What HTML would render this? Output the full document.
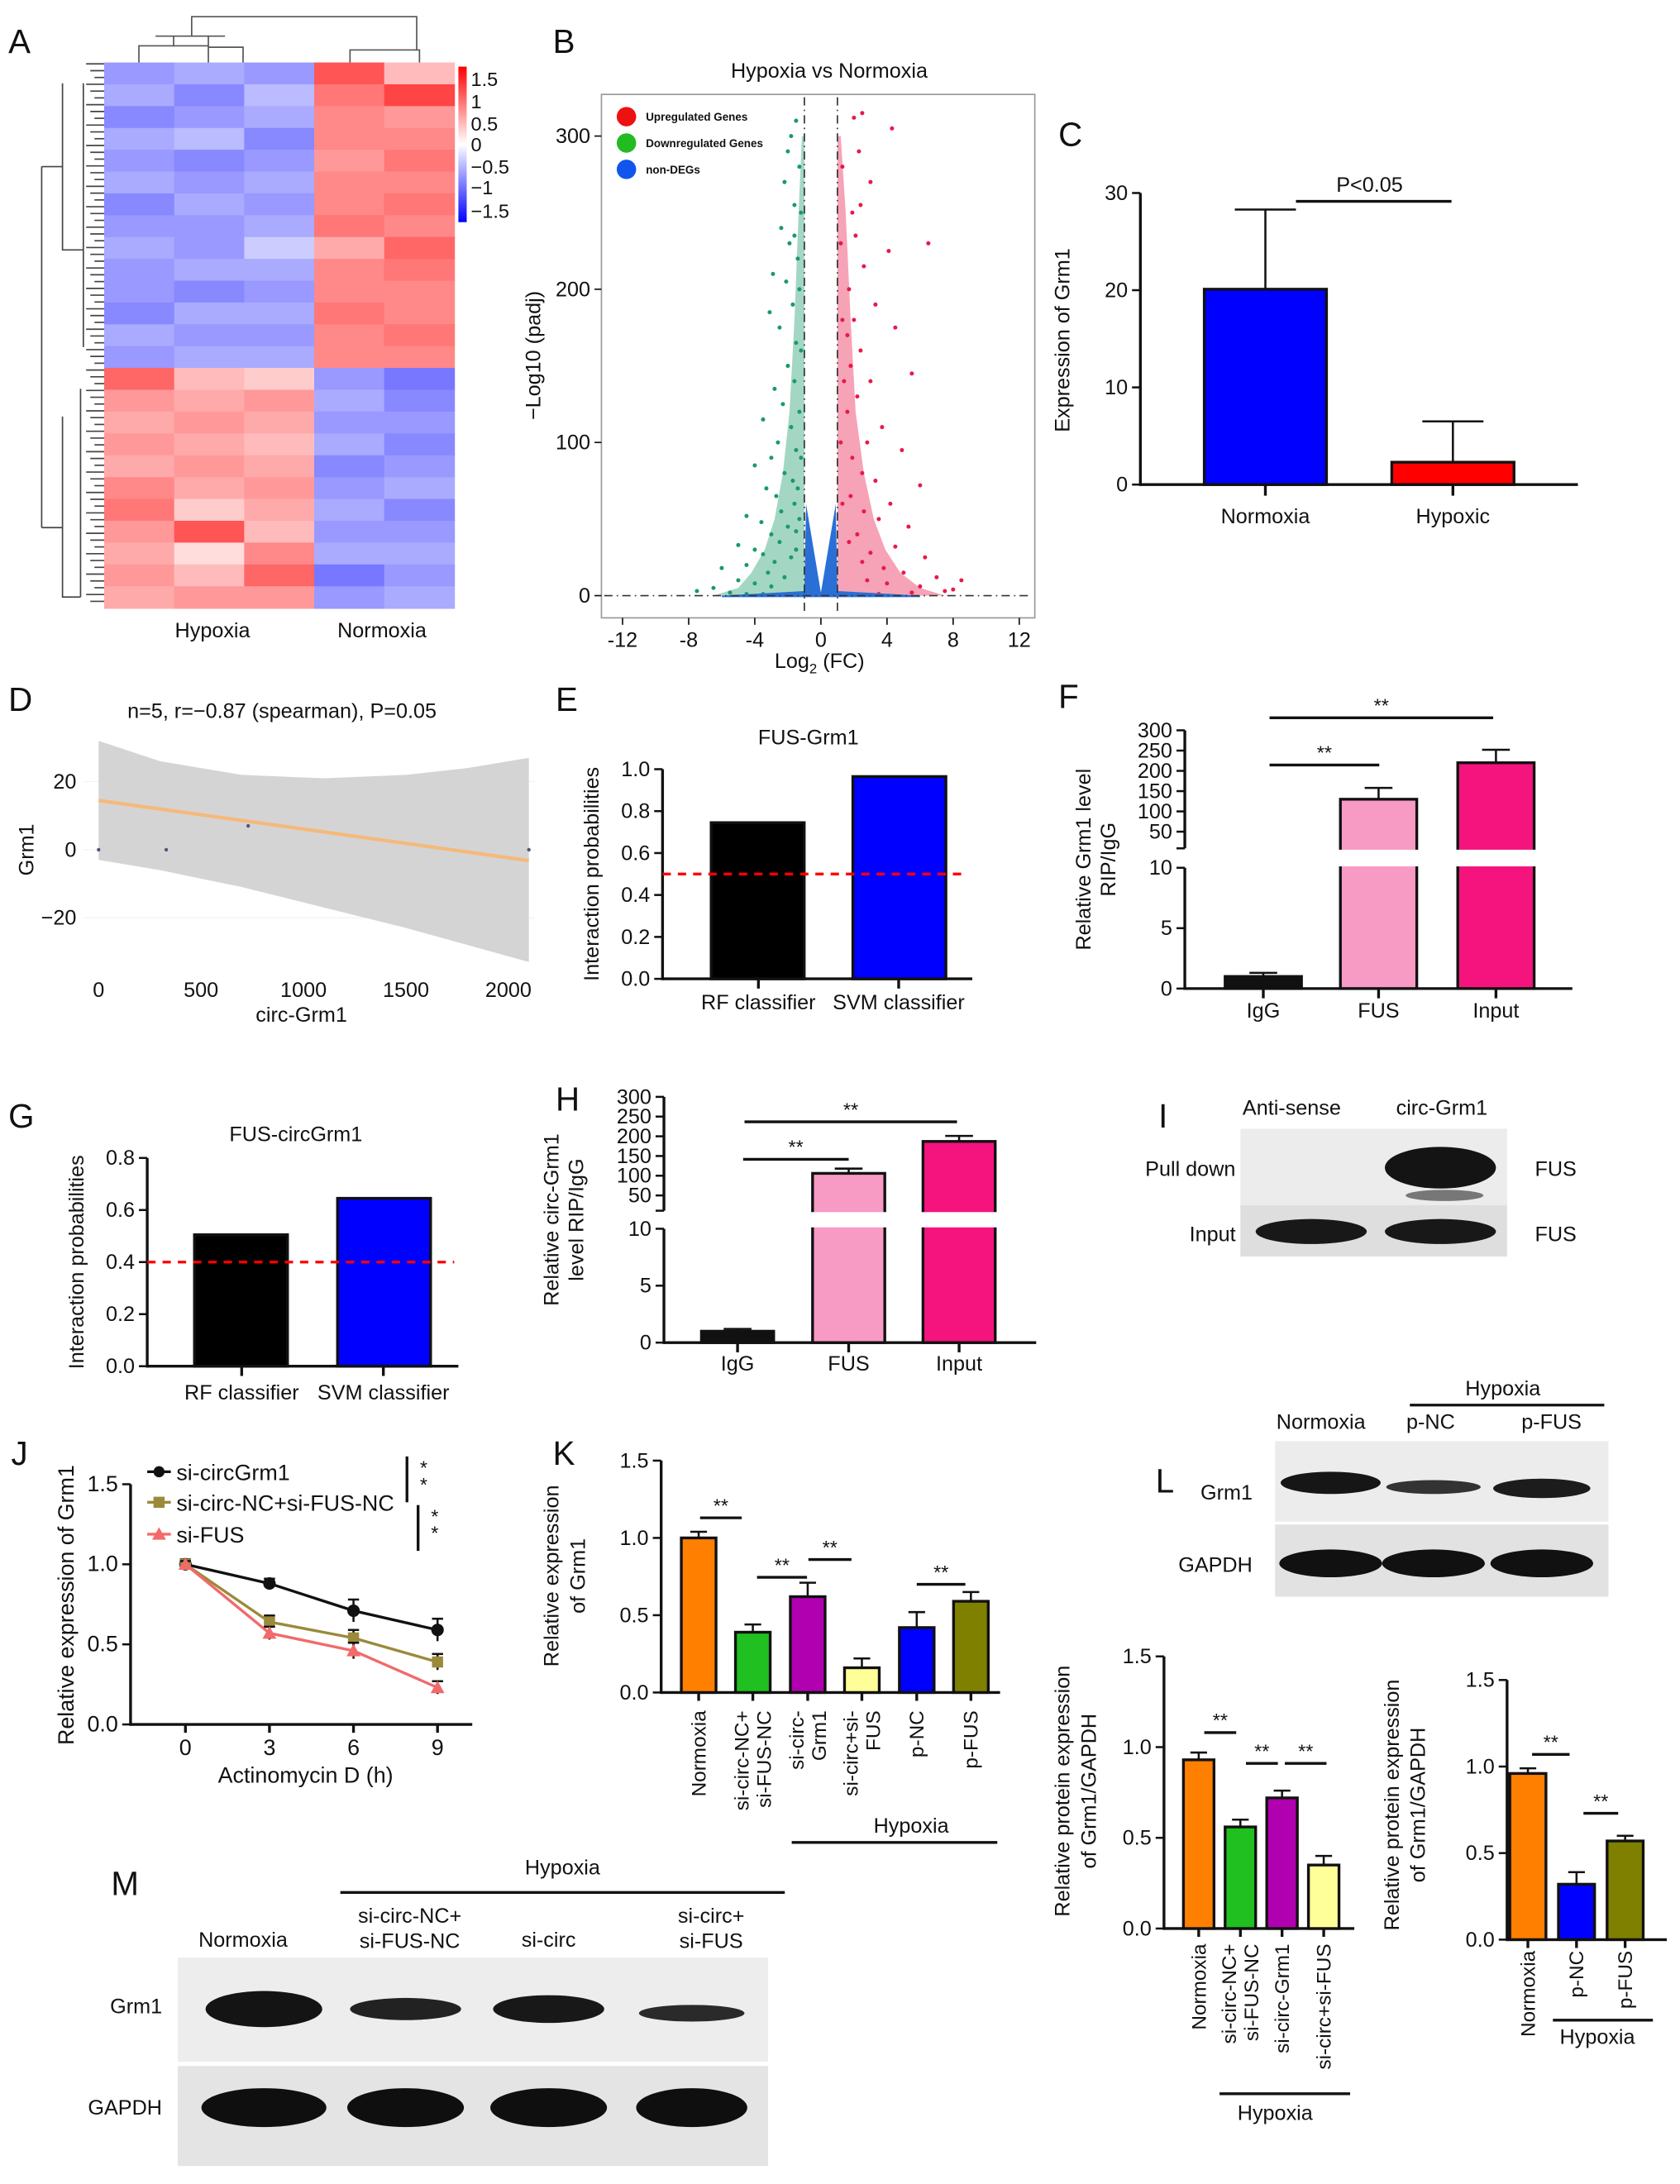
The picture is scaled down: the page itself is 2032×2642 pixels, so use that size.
<!DOCTYPE html>
<html><head><meta charset="utf-8"><style>
html,body{margin:0;padding:0;background:#fff;}
svg{display:block;font-family:"Liberation Sans",Arial,sans-serif;}
</style></head><body>
<svg id="fig" width="2032" height="2642" viewBox="0 0 1209.5 1573" preserveAspectRatio="none" xmlns="http://www.w3.org/2000/svg"></svg>
<script>
// ---------- DATA ----------
const heatTop=[[-0.6,-0.5,-0.6,1.0,0.4],[-0.5,-0.7,-0.4,0.8,1.1],[-0.7,-0.6,-0.5,0.7,0.6],[-0.5,-0.4,-0.7,0.7,0.7],[-0.6,-0.7,-0.6,0.6,0.8],[-0.5,-0.6,-0.5,0.7,0.7],[-0.7,-0.5,-0.6,0.7,0.8],[-0.6,-0.6,-0.5,0.8,0.7],[-0.5,-0.6,-0.3,0.5,0.9],[-0.6,-0.5,-0.5,0.7,0.8],[-0.6,-0.7,-0.6,0.7,0.7],[-0.7,-0.5,-0.5,0.8,0.7],[-0.5,-0.6,-0.6,0.7,0.8],[-0.6,-0.5,-0.5,0.7,0.7]];
const heatBot=[[0.9,0.4,0.3,-0.6,-0.8],[0.6,0.5,0.6,-0.5,-0.7],[0.5,0.6,0.5,-0.6,-0.6],[0.6,0.5,0.4,-0.5,-0.7],[0.5,0.6,0.5,-0.7,-0.6],[0.7,0.5,0.6,-0.6,-0.5],[0.8,0.3,0.5,-0.5,-0.7],[0.6,1.0,0.4,-0.6,-0.6],[0.5,0.2,0.7,-0.5,-0.5],[0.6,0.4,0.9,-0.8,-0.6],[0.5,0.6,0.6,-0.6,-0.5]];
const greenPts=[[-1.5,310],[-1.8,300],[-2,290],[-1.3,280],[-2.2,270],[-1.6,255],[-2.4,240],[-1.9,230],[-1.4,220],[-2.1,205],[-3.1,185],[-1.7,190],[-2.5,175],[-1.5,165],[-2,150],[-2.8,135],[-1.6,140],[-2.3,125],[-3.5,115],[-1.8,110],[-2.6,100],[-1.5,95],[-3.0,90],[-4.0,85],[-2.2,80],[-1.7,75],[-3.3,70],[-2.7,65],[-1.6,60],[-2.4,55],[-4.5,52],[-3.6,48],[-2.0,45],[-1.5,42],[-3.0,40],[-2.5,35],[-5.0,33],[-4.0,30],[-3.5,27],[-1.8,25],[-2.8,22],[-4.5,20],[-6.0,18],[-3.2,15],[-2.2,12],[-5.0,10],[-4,8],[-3,6],[-6.5,5],[-7.5,3],[-5.5,2],[-4.5,1],[-3.5,1],[-1.5,30],[-1.3,50],[-1.4,70],[-1.2,90],[-1.3,120],[-1.2,160],[-1.3,200],[-1.2,250],[-2.9,210],[-1.6,235]];
const redPts=[[2.5,315],[2,312],[4.3,305],[2.3,290],[3,270],[1.9,250],[2.1,235],[4.1,225],[6.5,230],[2.6,215],[1.7,200],[3.3,190],[2,180],[1.6,170],[4.5,175],[2.4,160],[1.8,150],[3,140],[5.5,145],[2.2,130],[1.6,120],[3.7,110],[2.8,100],[4.9,95],[1.9,90],[2.5,80],[3.3,75],[6,72],[1.8,65],[4.2,60],[2.6,55],[3.5,50],[5.3,45],[2.2,40],[1.7,35],[4.5,32],[3,28],[6.3,25],[2.5,22],[3.8,18],[5,15],[7,12],[2.8,10],[4,8],[6,6],[8,4],[8.5,10],[7.5,3],[5.5,2],[3.5,1],[1.3,60],[1.2,100],[1.4,140],[1.3,180],[1.2,230],[1.3,280],[2.4,255]];
const greenEnv=[[0,-6.5],[5,-5],[15,-4.2],[30,-3.4],[50,-2.8],[80,-2.3],[120,-1.9],[180,-1.6],[250,-1.35],[300,-1.15]];
const redEnv=[[0,7.5],[5,6],[15,4.8],[30,3.9],[50,3.2],[80,2.6],[120,2.1],[180,1.8],[250,1.5],[300,1.2]];
const blueV=[[-6,0],[-1,3],[-0.9,60],[0,2],[0.9,60],[1,3],[6,0],[6,-1],[-6,-1]];
const cCats=["Normoxia","Hypoxic"],cVals=[20.1,2.3],cErr=[8.2,4.2];
const dX=[0,330,730,2100],dY=[0,0,7,0];
const dFitX=[0,2100],dFitY=[14.5,-3.2];
const dBandX=[0,300,700,1100,1500,1800,2100],dBandUp=[32,26,22,21,22,24,27],dBandLo=[-3,-6,-11,-17,-23,-28,-33];
const eCats=["RF classifier","SVM classifier"],eVals=[0.745,0.965];
const gCats=["RF classifier","SVM classifier"],gVals=[0.505,0.645];
const fCats=["IgG","FUS","Input"],fVals=[1,130,220],fErr=[0.3,28,32];
const hCats=["IgG","FUS","Input"],hVals=[1,106,187],hErr=[0.2,12,14];
const jX=[0,3,6,9];
const jS1=[1.0,0.88,0.71,0.59],jE1=[0.03,0.03,0.07,0.07];
const jS2=[1.0,0.64,0.54,0.39],jE2=[0.03,0.04,0.05,0.05];
const jS3=[1.0,0.57,0.46,0.23],jE3=[0.02,0.04,0.05,0.04];
const kVals=[1.0,0.39,0.62,0.16,0.42,0.59],kErr=[0.04,0.05,0.09,0.06,0.1,0.06];
const l1Vals=[0.93,0.56,0.72,0.35],l1Err=[0.04,0.04,0.04,0.05];
const l2Vals=[0.96,0.32,0.57],l2Err=[0.03,0.07,0.03];

// ---------- HELPERS ----------
const NS="http://www.w3.org/2000/svg";
const svg=document.getElementById('fig');
function mk(tag,attrs,name,parent){
  const e=document.createElementNS(NS,tag);
  for(const k in attrs)e.setAttribute(k,attrs[k]);
  
  
  (parent||svg).appendChild(e);return e;}
function txt(x,y,s,name,o){o=o||{};
  const e=mk('text',{x:x,y:y,'font-size':o.fs||15,'text-anchor':o.a||'middle',fill:o.fill||'#111','font-weight':o.fw||'normal'},name);
  if(o.rot!==undefined)e.setAttribute('transform','rotate('+o.rot+' '+x+' '+y+')');
  e.textContent=s;return e;}
function line(x1,y1,x2,y2,name,o){o=o||{};
  return mk('line',{x1:x1,y1:y1,x2:x2,y2:y2,stroke:o.c||'#111','stroke-width':o.w||2,'stroke-dasharray':o.d||'none'},name);}
function rect(x,y,w,h,fill,name,o){o=o||{};
  return mk('rect',{x:x,y:y,width:w,height:h,fill:fill,stroke:o.s||'none','stroke-width':o.w||0,rx:o.rx||0},name);}
function lin(d0,d1,p0,p1){return v=>p0+(v-d0)*(p1-p0)/(d1-d0);}
function panel(x,y,s){txt(x,y,s,'panel-label-'+s.toLowerCase(),{fs:24,a:'start'});}
function yAxis(x,sy,ticks,fmt,name,fs){
  for(const t of ticks){line(x-6,sy(t),x,sy(t),name+'-tick',{w:1.5});txt(x-9,sy(t)+5,fmt(t),name+'-label',{a:'end',fs:fs||15});}}
function errBar(cx,y0,y1,name,w){line(cx,y0,cx,y1,name,{w:1.5});line(cx-(w||8),y1,cx+(w||8),y1,name+'-cap',{w:1.5});}
function stars(x1,x2,y,name){line(x1,y,x2,y,name+'-line',{w:2});txt((x1+x2)/2,y-4,'**',name+'-stars',{fs:14});}

// ---------- A: heatmap ----------
panel(6,38,'A');
function hcol(v){const t=Math.max(-1,Math.min(1,v/1.5));
  if(t>=0){const g=Math.round(255*(1-t));return 'rgb(255,'+g+','+g+')';}
  const g=Math.round(255*(1+t));return 'rgb('+g+','+g+',255)';}
const hx0=75,hw=50.4;
const topH=(265-45)/heatTop.length, botH=(438-265)/heatBot.length;
heatTop.forEach((r,i)=>r.forEach((v,j)=>rect(hx0+j*hw,45+i*topH,hw+0.5,topH+0.5,hcol(v),'heatmap-cell')));
heatBot.forEach((r,i)=>r.forEach((v,j)=>rect(hx0+j*hw,265+i*botH,hw+0.5,botH+0.5,hcol(v),'heatmap-cell')));
const dg=mk('g',{stroke:'#444','stroke-width':1,fill:'none'},'row-dendrogram');
for(let i=0;i<80;i++){const y=46+i*4.9;mk('line',{x1:62+(i%3)*3,y1:y,x2:75,y2:y},'dendro-leaf',dg);}
mk('path',{d:'M30,120 V380 M30,120 H45 M30,380 H45 M45,60 V180 H60 M45,300 V430 H58 M60,60 V250 M58,280 V430'},'dendro-branch',dg);
mk('path',{d:'M100,45 V33 H150 V45 M125,33 V26 M175,45 V34 H150 M150,34 V26 M138,26 V12 H300 V36 M252,45 V36 H302 V45 M112,26 H162',stroke:'#555',fill:'none','stroke-width':1},'column-dendrogram');
const cbg=mk('linearGradient',{id:'cb',x1:0,y1:0,x2:0,y2:1},'colorbar-gradient');
[['0','#ff0000'],['0.5','#ffffff'],['1','#0000ff']].forEach(s=>mk('stop',{offset:s[0],'stop-color':s[1]},'gradient-stop',cbg));
rect(330,48,6,112,'url(#cb)','colorbar');
[['1.5',57],['1',73],['0.5',89],['0',104],['\u22120.5',120],['\u22121',135],['\u22121.5',152]].forEach(l=>txt(339,l[1]+5,l[0],'colorbar-label',{a:'start',fs:14}));
txt(153,459,'Hypoxia','heatmap-group-label');txt(275,459,'Normoxia','heatmap-group-label');

// ---------- B: volcano ----------
panel(398,38,'B');
txt(597,56,'Hypoxia vs Normoxia','volcano-title');
rect(433,68,312,377,'none','volcano-frame',{s:'#999',w:1});
const bx=lin(0,1,591,602.9),by=lin(0,300,429,98);
mk('polygon',{points:greenEnv.map(p=>bx(p[1])+','+by(p[0])).concat([bx(-1)+','+by(300),bx(-1)+','+by(0)]).join(' '),fill:'#1a9a6a','fill-opacity':0.4},'downregulated-density');
mk('polygon',{points:redEnv.map(p=>bx(p[1])+','+by(p[0])).concat([bx(1)+','+by(300),bx(1)+','+by(0)]).join(' '),fill:'#e8194a','fill-opacity':0.4},'upregulated-density');
greenPts.forEach(p=>mk('circle',{cx:bx(p[0]),cy:by(p[1]),r:1.5,fill:'#1a9a6a'},'downregulated-point'));
redPts.forEach(p=>mk('circle',{cx:bx(p[0]),cy:by(p[1]),r:1.5,fill:'#e8194a'},'upregulated-point'));
mk('polygon',{points:blueV.map(p=>bx(p[0])+','+by(p[1])).join(' '),fill:'#2a6fd6'},'non-deg-points');
line(bx(-1),70,bx(-1),443,'fc-threshold-left',{w:1,d:'6,3,1,3',c:'#333'});
line(bx(1),70,bx(1),443,'fc-threshold-right',{w:1,d:'6,3,1,3',c:'#333'});
line(435,by(0),743,by(0),'padj-threshold',{w:1,d:'6,3,1,3',c:'#333'});
[-12,-8,-4,0,4,8,12].forEach(t=>{line(bx(t),445,bx(t),450,'volcano-x-tick',{w:1});txt(bx(t),466,t<0?'-'+(-t):String(t),'volcano-x-label');});
[0,100,200,300].forEach(t=>{line(428,by(t),433,by(t),'volcano-y-tick',{w:1});txt(425,by(t)+5,String(t),'volcano-y-label',{a:'end'});});
txt(389,256,'\u2212Log10 (padj)','volcano-y-title',{rot:-90});
const xl=txt(590,481,'','volcano-x-title');xl.innerHTML='Log<tspan font-size="10" dy="4">2</tspan><tspan dy="-4"> (FC)</tspan>';
[['#ee1111','Upregulated Genes',84],['#22bb22','Downregulated Genes',103],['#1155ee','non-DEGs',122]].forEach(l=>{mk('circle',{cx:451,cy:l[2],r:7,fill:l[0]},'legend-marker');txt(465,l[2]+3,l[1],'legend-entry',{a:'start',fs:8,fw:'bold'});});

// ---------- C ----------
panel(762,105,'C');
const cy=lin(0,30,349,139);
yAxis(821,cy,[0,10,20,30],t=>String(t),'c-y');
line(821,139,821,350,'c-y-axis');line(821,349,1136,349,'c-x-axis');
const cCx=[911,1046];
cCats.forEach((c,i)=>{errBar(cCx[i],cy(cVals[i]),cy(cVals[i]+cErr[i]),'c-error-bar',22);
  rect(cCx[i]-44,cy(cVals[i]),88,349-cy(cVals[i]),i?'#f00':'#00f','c-bar-'+c.toLowerCase(),{s:'#111',w:2});
  line(cCx[i],349,cCx[i],357,'c-x-tick');txt(cCx[i],377,c,'c-x-label');});
line(933,145,1045,145,'c-sig-line');txt(986,138,'P<0.05','c-p-value');
txt(770,245,'Expression of Grm1','c-y-title',{rot:-90});

// ---------- D ----------
panel(6,512,'D');
txt(203,517,'n=5, r=\u22120.87 (spearman),  P=0.05','d-title');
const dxs=lin(0,2000,71,366),dys=lin(0,20,612,563);
[-20,0,20].forEach(t=>{line(60,dys(t),385,dys(t),'d-grid',{w:0.5,c:'#eee'});txt(55,dys(t)+5,t<0?'\u2212'+(-t):String(t),'d-y-label',{a:'end'});});
mk('path',{d:'M'+dBandX.map((v,i)=>dxs(v)+','+dys(dBandUp[i])).join(' L')+' L'+dBandX.slice().reverse().map((v,i)=>dxs(v)+','+dys(dBandLo[dBandLo.length-1-i])).join(' L')+'Z',fill:'#d4d4d4'},'d-confidence-band');
line(dxs(dFitX[0]),dys(dFitY[0]),dxs(dFitX[1]),dys(dFitY[1]),'d-fit-line',{c:'#f5b97a',w:2.5});
dX.forEach((v,i)=>mk('circle',{cx:dxs(v),cy:dys(dY[i]),r:1.3,fill:'#557'},'d-point'));
[0,500,1000,1500,2000].forEach(t=>txt(dxs(t),718,String(t),'d-x-label'));
txt(217,736,'circ-Grm1','d-x-title');txt(24,612,'Grm1','d-y-title',{rot:-90});

// ---------- E / G probability bars ----------
function probPanel(letter,lx,ly,title,tx,ty,ax,y0,yTop,maxV,ticks,cats,vals,barX,barW,thr,xEnd,ylx,labY,lcx){
  panel(lx,ly,letter);txt(tx,ty,title,letter+'-title');
  const s=lin(0,maxV,y0,yTop);
  yAxis(ax,s,ticks,t=>t.toFixed(1),letter+'-y');
  line(ax,yTop,ax,y0+1,letter+'-y-axis');line(ax,y0,xEnd,y0,letter+'-x-axis');
  cats.forEach((c,i)=>{rect(barX[i],s(vals[i]),barW,y0-s(vals[i]),i?'#00f':'#000',letter+'-bar-'+i,{s:'#111',w:2});
    line(lcx[i],y0,lcx[i],y0+7,letter+'-x-tick');txt(lcx[i],labY,c,letter+'-x-label');});
  line(ax,s(thr),xEnd-3,s(thr),letter+'-threshold-line',{c:'#f00',d:'6,5',w:2});
  txt(ylx,(y0+yTop)/2,'Interaction probabilities',letter+'-y-title',{rot:-90});}
probPanel('E',400,512,'FUS-Grm1',582,536,477,705,554,1.0,[0,0.2,0.4,0.6,0.8,1.0],eCats,eVals,[512,614],67,0.5,700,431,727,[546,647]);
probPanel('G',6,812,'FUS-circGrm1',213,822,106,984,834,0.8,[0,0.2,0.4,0.6,0.8],gCats,gVals,[140,243],67,0.4,330,60,1008,[174,276]);

// ---------- F / H broken axis ----------
function rip(letter,lx,ly,ax,y0,y10,yUpEnd,y50,y300,cats,vals,errs,cx,bw,sig,xEnd,labY,t1,t2,tX){
  panel(lx,ly,letter);
  const lo=lin(0,10,y0,y10),hi=lin(50,300,y50,y300);
  const f=v=>v<=10?lo(v):(v<50?(yUpEnd+y10)/2:hi(v));
  yAxis(ax,lo,[0,5,10],t=>String(t),letter+'-y-low');
  yAxis(ax,hi,[50,100,150,200,250,300],t=>String(t),letter+'-y-high');
  line(ax-6,yUpEnd,ax,yUpEnd,letter+'-break-tick',{w:1.5});
  line(ax,y10,ax,y0+1,letter+'-y-axis-low');line(ax,y300,ax,yUpEnd,letter+'-y-axis-high');
  line(ax,y0,xEnd,y0,letter+'-x-axis');
  const cols=['#111','#f79ac4','#f5137e'];
  cats.forEach((c,i)=>{const top=f(vals[i]);
    errBar(cx[i],top,f(vals[i]+errs[i]),letter+'-error-bar',10);
    rect(cx[i]-bw/2,top,bw,y0-top,cols[i],letter+'-bar-'+c.toLowerCase(),{s:'#111',w:2});
    line(cx[i],y0,cx[i],y0+7,letter+'-x-tick');txt(cx[i],labY,c,letter+'-x-label');});
  rect(ax+2,yUpEnd+1,xEnd-ax,y10-yUpEnd-2,'#fff',letter+'-axis-break');
  sig.forEach((s,i)=>stars(s[0],s[1],s[2],letter+'-sig-'+i));
  txt(tX,(y0+y300)/2,t1,letter+'-y-title-1',{rot:-90});txt(tX+18,(y0+y300)/2,t2,letter+'-y-title-2',{rot:-90});}
rip('F',762,510,853,712,625,611,599,526,fCats,fVals,fErr,[909.5,992.5,1077],55,[[914,993,551],[914,1075,517]],1132,733,'Relative Grm1 level','RIP/IgG',785);
rip('H',400,800,478,967,885,872,861,790,hCats,hVals,hErr,[531,611,690.5],52,[[535,611,835],[536,689,808]],746,987,'Relative circ-Grm1','level RIP/IgG',402);

// ---------- I blot ----------
panel(834,812,'I');
txt(930,803,'Anti-sense','i-col-label');txt(1038,803,'circ-Grm1','i-col-label');
rect(893,813,192,55,'#ececec','i-pulldown-blot');rect(893,868,192,37,'#dedede','i-input-blot');
mk('ellipse',{cx:1037,cy:841,rx:40,ry:15,fill:'#141414'},'i-band-pulldown');
mk('ellipse',{cx:1040,cy:861,rx:28,ry:4,fill:'#777'},'i-band-faint');
mk('ellipse',{cx:944,cy:887,rx:40,ry:9,fill:'#181818'},'i-band-input-1');
mk('ellipse',{cx:1037,cy:887,rx:40,ry:9,fill:'#181818'},'i-band-input-2');
txt(857,847,'Pull down','i-row-label');txt(1120,847,'FUS','i-row-label');
txt(873,894,'Input','i-row-label');txt(1120,894,'FUS','i-row-label');

// ---------- J line chart ----------
panel(8,1055,'J');
const jx=lin(0,9,133.5,315),jy=lin(0,1.5,1242,1069);
yAxis(94,jy,[0,0.5,1.0,1.5],t=>t.toFixed(1),'j-y',16);
line(94,1069,94,1243,'j-y-axis');line(94,1242,340,1242,'j-x-axis');
jX.forEach(t=>{line(jx(t),1242,jx(t),1248,'j-x-tick');txt(jx(t),1264,String(t),'j-x-label',{fs:16});});
[[jS1,jE1,'#111','circle','si-circgrm1'],[jS2,jE2,'#9a8a3a','square','si-circ-nc-si-fus-nc'],[jS3,jE3,'#f26a6a','triangle','si-fus']].forEach(s=>{
  const pts=jX.map((t,i)=>jx(t)+','+jy(s[0][i])).join(' ');
  mk('polyline',{points:pts,fill:'none',stroke:s[2],'stroke-width':2},'j-line-'+s[4]);
  jX.forEach((t,i)=>{errBar(jx(t),jy(s[0][i]-s[1][i]),jy(s[0][i]+s[1][i]),'j-error',4);
    if(s[3]=='circle')mk('circle',{cx:jx(t),cy:jy(s[0][i]),r:4.5,fill:s[2]},'j-marker');
    else if(s[3]=='square')rect(jx(t)-4,jy(s[0][i])-4,8,8,s[2],'j-marker');
    else mk('polygon',{points:(jx(t))+','+(jy(s[0][i])-5)+' '+(jx(t)-5)+','+(jy(s[0][i])+4)+' '+(jx(t)+5)+','+(jy(s[0][i])+4),fill:s[2]},'j-marker');});});
[['#111','si-circGrm1',1060,'c'],['#9a8a3a','si-circ-NC+si-FUS-NC',1082,'s'],['#f26a6a','si-FUS',1105,'t']].forEach(l=>{
  line(106,l[2],123,l[2],'j-legend-line',{c:l[0]});
  if(l[3]=='c')mk('circle',{cx:114.5,cy:l[2],r:4,fill:l[0]},'j-legend-marker');else if(l[3]=='s')rect(110.5,l[2]-4,8,8,l[0],'j-legend-marker');else mk('polygon',{points:'114.5,'+(l[2]-5)+' 109.5,'+(l[2]+4)+' 119.5,'+(l[2]+4),fill:l[0]},'j-legend-marker');
  txt(127,l[2]+6,l[1],'j-legend-entry',{a:'start',fs:16});});
line(293,1049,293,1082,'j-sig-bar-1');txt(305,1062,'*','j-sig-star',{fs:14});txt(305,1074,'*','j-sig-star',{fs:14});
line(301,1084,301,1117,'j-sig-bar-2');txt(313,1097,'*','j-sig-star',{fs:14});txt(313,1109,'*','j-sig-star',{fs:14});
txt(220,1284,'Actinomycin D (h)','j-x-title',{fs:16});txt(53,1156,'Relative expression of Grm1','j-y-title',{rot:-90,fs:16});

// ---------- generic colored bar chart ----------
function colorBars(prefix,ax,y0,yTop,xEnd,cx,bw,vals,errs,cols,labels,sig,labTop){
  const s=lin(0,1.5,y0,yTop);
  yAxis(ax,s,[0,0.5,1.0,1.5],t=>t.toFixed(1),prefix+'-y');
  line(ax,yTop,ax,y0+1,prefix+'-y-axis');line(ax,y0,xEnd,y0,prefix+'-x-axis');
  vals.forEach((v,i)=>{errBar(cx[i],s(v),s(v+errs[i]),prefix+'-error',6);
    rect(cx[i]-bw/2,s(v),bw,y0-s(v),cols[i],prefix+'-bar-'+i,{s:'#111',w:2});
    line(cx[i],y0,cx[i],y0+6,prefix+'-x-tick');
    labels[i].forEach((ln,k)=>txt(cx[i]+5+(k-(labels[i].length-1)/2)*16,labTop,ln,prefix+'-x-label',{a:'end',rot:-90,fs:14.5}));});
  sig.forEach((g,i)=>stars(g[0],g[1],s(g[2]),prefix+'-sig-'+i));}
panel(398,1055,'K');
colorBars('k',476,1219,1052,720,[503,542,581.5,620.5,660,699],25,kVals,kErr,['#ff7f00','#1fc01f','#b000b0','#ffff99','#0000ff','#808000'],
 [['Normoxia'],['si-circ-NC+','si-FUS-NC'],['si-circ-','Grm1'],['si-circ+si-','FUS'],['p-NC'],['p-FUS']],[[504,534,1.13],[545,581,0.745],[582,613,0.86],[660,695,0.70]],1232);
line(570,1327,718,1327,'k-hypoxia-line');txt(656,1320,'Hypoxia','k-hypoxia-label');
txt(402,1135,'Relative expression','k-y-title-1',{rot:-90});txt(421,1135,'of Grm1','k-y-title-2',{rot:-90});

// ---------- L blot ----------
panel(832,1075,'L');
txt(1082,1005,'Hypoxia','l-hypoxia-label');line(1015,1012,1155,1012,'l-hypoxia-line');
txt(951,1029,'Normoxia','l-col-label');txt(1030,1029,'p-NC','l-col-label');txt(1117,1029,'p-FUS','l-col-label');
rect(918,1038,240,58,'#ececec','l-grm1-blot');rect(918,1098,240,52,'#e2e2e2','l-gapdh-blot');
mk('ellipse',{cx:958,cy:1068,rx:36,ry:8,fill:'#161616'},'l-band');mk('ellipse',{cx:1032,cy:1071,rx:34,ry:5,fill:'#333'},'l-band');mk('ellipse',{cx:1110,cy:1072,rx:35,ry:7,fill:'#1c1c1c'},'l-band');
[958,1032,1110].forEach(c=>mk('ellipse',{cx:c,cy:1126,rx:37,ry:10,fill:'#111'},'l-gapdh-band'));
txt(883,1080,'Grm1','l-row-label');txt(875,1132,'GAPDH','l-row-label');
colorBars('l1',838,1389,1193,975,[863,893,923,953],22,l1Vals,l1Err,['#ff7f00','#1fc01f','#b000b0','#ffff99'],
 [['Normoxia'],['si-circ-NC+','si-FUS-NC'],['si-circ-Grm1'],['si-circ+si-FUS']],[[867,890,1.08],[897,920,0.91],[925,955,0.91]],1400);
line(878,1508,972,1508,'l1-hypoxia-line');txt(918,1527,'Hypoxia','l1-hypoxia-label');
txt(770,1290,'Relative protein expression','l1-y-title-1',{rot:-90});txt(789,1290,'of Grm1/GAPDH','l1-y-title-2',{rot:-90});
colorBars('l2',1085,1397,1210,1200,[1100,1135,1170],26,l2Vals,l2Err,['#ff7f00','#0000ff','#808000'],
 [['Normoxia'],['p-NC'],['p-FUS']],[[1103,1130,1.07],[1140,1165,0.73]],1405);
line(1118,1455,1190,1455,'l2-hypoxia-line');txt(1150,1472,'Hypoxia','l2-hypoxia-label');
txt(1007,1300,'Relative protein expression','l2-y-title-1',{rot:-90});txt(1026,1300,'of Grm1/GAPDH','l2-y-title-2',{rot:-90});

// ---------- M blot ----------
panel(80,1365,'M');
txt(405,1350,'Hypoxia','m-hypoxia-label');line(245,1363,565,1363,'m-hypoxia-line');
txt(175,1402,'Normoxia','m-col-label');txt(295,1385,'si-circ-NC+','m-col-label');txt(295,1403,'si-FUS-NC','m-col-label');
txt(395,1402,'si-circ','m-col-label');txt(512,1385,'si-circ+','m-col-label');txt(512,1403,'si-FUS','m-col-label');
rect(128,1410,425,75,'#ededed','m-grm1-blot');rect(128,1488,425,72,'#e4e4e4','m-gapdh-blot');
mk('ellipse',{cx:190,cy:1447,rx:42,ry:13,fill:'#141414'},'m-band');mk('ellipse',{cx:292,cy:1447,rx:40,ry:8,fill:'#222'},'m-band');
mk('ellipse',{cx:395,cy:1447,rx:40,ry:10,fill:'#181818'},'m-band');mk('ellipse',{cx:498,cy:1450,rx:38,ry:6,fill:'#2a2a2a'},'m-band');
[[190,45],[292,42],[395,42],[498,40]].forEach(b=>mk('ellipse',{cx:b[0],cy:1518,rx:b[1],ry:14,fill:'#0f0f0f'},'m-gapdh-band'));
txt(98,1450,'Grm1','m-row-label');txt(90,1523,'GAPDH','m-row-label');
</script>
</body></html>
